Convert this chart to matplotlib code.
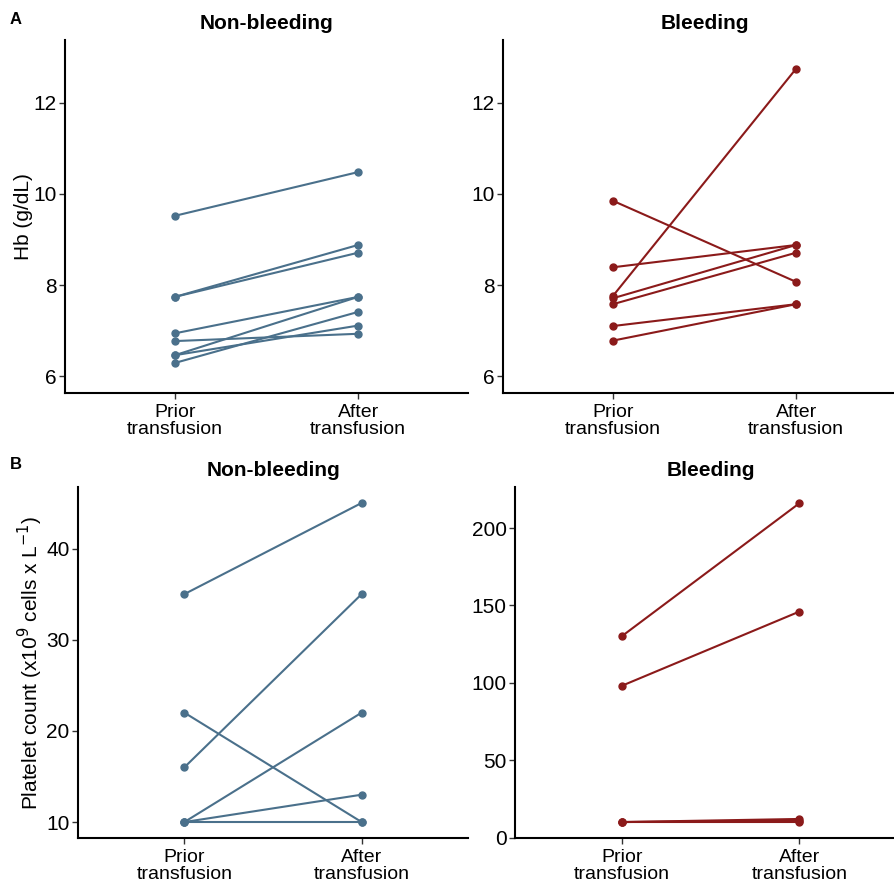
import matplotlib.pyplot as plt

plt.rcParams['font.family'] = ['Liberation Sans', 'DejaVu Sans']

blue = '#4A708B'
red = '#8B1A1A'

categories = ['Prior\ntransfusion', 'After\ntransfusion']

# Hb (g/dL)
hb_nonbleed_prior = [9.52, 7.74, 7.74, 6.94, 6.77, 6.46, 6.46, 6.29]
hb_nonbleed_after = [10.48, 8.88, 8.71, 7.74, 6.93, 7.74, 7.11, 7.41]
hb_bleed_prior = [9.85, 7.76, 8.39, 7.71, 7.58, 7.10, 6.78]
hb_bleed_after = [8.07, 12.75, 8.88, 8.88, 8.71, 7.58, 7.58]

# platelets (x10^9 cells / L)
plt_nonbleed_prior = [35, 16, 22, 10, 10, 10]
plt_nonbleed_after = [45, 35, 10, 22, 13, 10]
plt_bleed_prior = [130, 98, 10, 10, 10]
plt_bleed_after = [216, 146, 10, 11, 12]

W, H = 894, 886
fig = plt.figure(figsize=(W / 100, H / 100), dpi=100)


def make_ax(l, t, r, b):
    return fig.add_axes([l / W, 1 - b / H, (r - l) / W, (b - t) / H])


def draw(ax, prior, after, color, title, ylim, yticks):
    for p, a in zip(prior, after):
        ax.plot([1, 2], [p, a], color=color, lw=1.5, marker='o', ms=5, zorder=3)
    ax.set_xlim(0.4, 2.6)
    ax.set_ylim(*ylim)
    ax.set_yticks(yticks)
    ax.set_xticks([1, 2])
    ax.set_xticklabels(categories, fontsize=14, linespacing=1.0)
    ax.tick_params(axis='y', labelsize=15, length=4, width=1, color='#333333', pad=2)
    ax.tick_params(axis='x', length=4, width=1, color='#333333', pad=4)
    for s in ['top', 'right']:
        ax.spines[s].set_visible(False)
    for s in ['left', 'bottom']:
        ax.spines[s].set_linewidth(1.5)
    ax.set_title(title, fontsize=15, fontweight='bold', pad=8)


ax1 = make_ax(65, 40, 468, 393)
draw(ax1, hb_nonbleed_prior, hb_nonbleed_after, blue, 'Non-bleeding', (5.63, 13.38), [6, 8, 10, 12])
ax1.set_ylabel('Hb (g/dL)', fontsize=15, labelpad=0)

ax2 = make_ax(503, 40, 906, 393)
draw(ax2, hb_bleed_prior, hb_bleed_after, red, 'Bleeding', (5.63, 13.38), [6, 8, 10, 12])

ax3 = make_ax(78, 487, 468, 838)
draw(ax3, plt_nonbleed_prior, plt_nonbleed_after, blue, 'Non-bleeding', (8.25, 46.75), [10, 20, 30, 40])
ax3.set_ylabel(r'Platelet count (x10$^{9}$ cells x L$^{-1}$)', fontsize=15, labelpad=1)

ax4 = make_ax(515, 487, 906, 838)
draw(ax4, plt_bleed_prior, plt_bleed_after, red, 'Bleeding', (-0.3, 226.5), [0, 50, 100, 150, 200])

fig.text(10 / W, 1 - 20 / H, 'A', fontsize=12, fontweight='bold', va='center')
fig.text(10 / W, 1 - 465 / H, 'B', fontsize=12, fontweight='bold', va='center')

fig.savefig('out.png', dpi=100)
